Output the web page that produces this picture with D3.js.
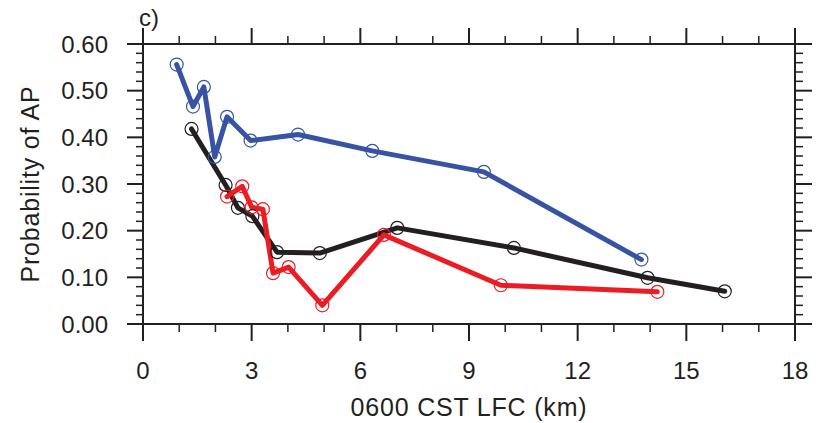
<html>
<head>
<script src="https://d3js.org/d3.v7.min.js"></script>
<style>
  body { margin: 0; background: #fff; }
  text { font-family: "Liberation Sans", Arial, sans-serif; fill: #231f20; }
</style>
</head>
<body>
<svg id="chart" width="821" height="423"></svg>
<script>
// data: LFC (km) vs probability of AP
var blueX = [0.93, 1.38, 1.68, 1.98, 2.32, 2.97, 4.28, 6.33, 9.41, 13.76];
var blueY = [0.556, 0.466, 0.508, 0.358, 0.444, 0.393, 0.406, 0.371, 0.326, 0.138];

var blackX = [1.34, 2.28, 2.62, 3.02, 3.70, 4.88, 7.02, 10.24, 13.93, 16.06];
var blackY = [0.418, 0.298, 0.249, 0.231, 0.154, 0.152, 0.206, 0.163, 0.099, 0.070];

var redX = [2.32, 2.74, 3.00, 3.31, 3.59, 4.02, 4.95, 6.65, 9.88, 14.20];
var redY = [0.273, 0.295, 0.250, 0.246, 0.109, 0.122, 0.040, 0.191, 0.083, 0.069];

var xTicks = [0, 3, 6, 9, 12, 15, 18];
var yTicks = [0, 0.1, 0.2, 0.3, 0.4, 0.5, 0.6];

var margin = {top: 44, right: 26, bottom: 99, left: 143},
    width = 795 - margin.left,
    height = 324 - margin.top;

var svg = d3.select("#chart");
var g = svg.append("g")
    .attr("transform", "translate(" + margin.left + "," + margin.top + ")");

var x = d3.scaleLinear().domain([0, 18]).range([0, width]),
    y = d3.scaleLinear().domain([0, 0.6]).range([height, 0]);

function pairs(xs, ys) {
    return xs.map(function(v, i) { return [v, ys[i]]; });
}

var series = [
    {pts: pairs(blackX, blackY), color: "#231f20"},
    {pts: pairs(redX, redY), color: "#ec1c24"},
    {pts: pairs(blueX, blueY), color: "#3853a4"}
];

var axisColor = "#231f20";

// minor / major ticks, all pointing outward
function ticks(axis, values, len) {
    values.forEach(function(v) {
        if (axis == "b" || axis == "t") {
            var px = x(v), y0 = axis == "b" ? height : 0, dir = axis == "b" ? 1 : -1;
            g.append("line").attr("x1", px).attr("x2", px)
                .attr("y1", y0).attr("y2", y0 + dir * len)
                .attr("stroke", axisColor).attr("stroke-width", len > 10 ? 2 : 1.5);
        } else {
            var py = y(v), x0 = axis == "l" ? 0 : width, dir2 = axis == "l" ? -1 : 1;
            g.append("line").attr("y1", py).attr("y2", py)
                .attr("x1", x0).attr("x2", x0 + dir2 * len)
                .attr("stroke", axisColor).attr("stroke-width", len > 10 ? 2 : 1.5);
        }
    });
}

var xMinor = d3.range(0, 19).filter(function(v) { return v % 3 != 0; });
var yMinor = d3.range(0, 31).filter(function(v) { return v % 5 != 0; }).map(function(v) { return v * 0.02; });

ticks("b", xMinor, 8); ticks("t", xMinor, 8);
ticks("b", xTicks, 17); ticks("t", xTicks, 16);
ticks("l", yMinor, 7); ticks("r", yMinor, 8);
ticks("l", yTicks, 16); ticks("r", yTicks, 17);

g.append("rect")
    .attr("width", width).attr("height", height)
    .attr("fill", "none").attr("stroke", axisColor).attr("stroke-width", 2);

// tick labels
g.selectAll(".xl").data(xTicks).enter().append("text")
    .attr("x", function(d) { return x(d); })
    .attr("y", height + 55)
    .attr("text-anchor", "middle")
    .style("font-size", "24px")
    .text(function(d) { return d; });

g.selectAll(".yl").data(yTicks).enter().append("text")
    .attr("x", -35)
    .attr("y", function(d) { return y(d); })
    .attr("dy", "0.36em")
    .attr("text-anchor", "end")
    .style("font-size", "24px")
    .text(function(d) { return d.toFixed(2); });

var line = d3.line()
    .x(function(d) { return x(d[0]); })
    .y(function(d) { return y(d[1]); });

series.forEach(function(s) {
    g.append("path")
        .datum(s.pts)
        .attr("d", line)
        .attr("fill", "none")
        .attr("stroke", s.color)
        .attr("stroke-width", 5)
        .attr("stroke-linejoin", "round")
        .attr("stroke-linecap", "round");
});

series.forEach(function(s) {
    g.selectAll(null).data(s.pts).enter().append("circle")
        .attr("cx", function(d) { return x(d[0]); })
        .attr("cy", function(d) { return y(d[1]); })
        .attr("r", 6.5)
        .attr("fill", "none")
        .attr("stroke", s.color)
        .attr("stroke-width", 1.2);
});

// titles
svg.append("text")
    .attr("x", margin.left + width / 2)
    .attr("y", 416)
    .attr("text-anchor", "middle")
    .style("font-size", "25px")
    .style("letter-spacing", "0.8px")
    .text("0600 CST LFC (km)");

svg.append("text")
    .attr("transform", "translate(39," + (margin.top + height / 2) + ") rotate(-90)")
    .attr("text-anchor", "middle")
    .style("font-size", "25px")
    .style("letter-spacing", "0.8px")
    .text("Probability of AP");

svg.append("text")
    .attr("x", 139)
    .attr("y", 26)
    .style("font-size", "24px")
    .text("c)");
</script>
</body>
</html>
